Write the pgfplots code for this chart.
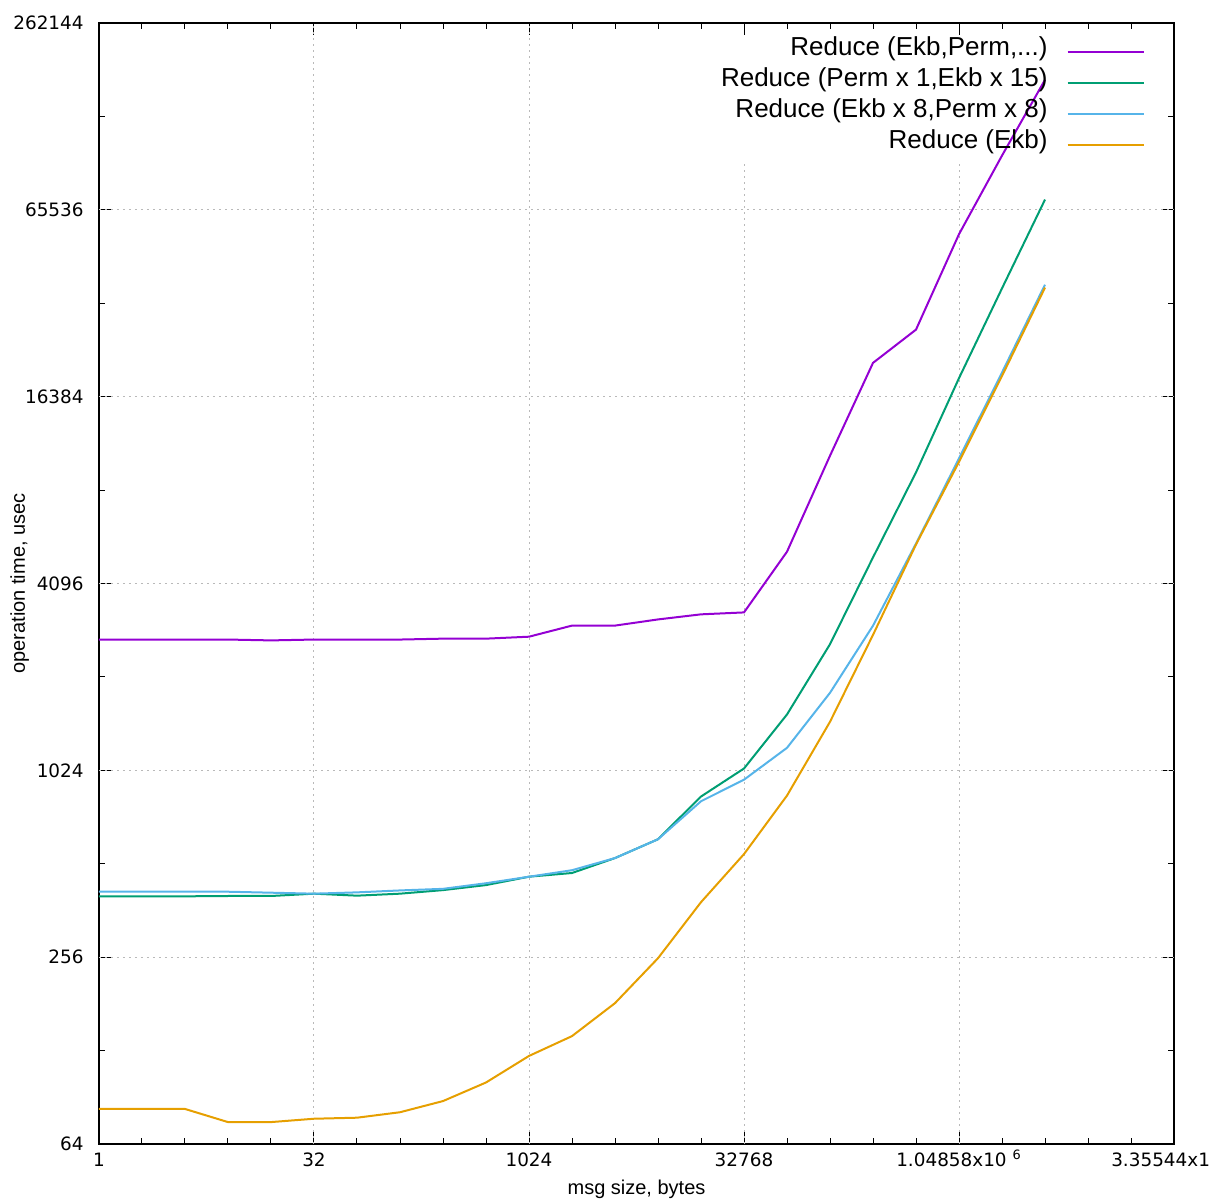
\documentclass[border=0pt]{standalone}
\usepackage{fontspec}
\setmainfont{Liberation Sans}
\newfontfamily\dejavu{DejaVu Sans}
\usepackage{pgfplots}
\pgfplotsset{compat=1.18}
\usepackage{pgfplotstable}

\definecolor{cpurple}{HTML}{9400D3}
\definecolor{cgreen}{HTML}{009E73}
\definecolor{cblue}{HTML}{56B4E9}
\definecolor{corange}{HTML}{E69F00}

\pgfplotstableread{
x y
1 2702
2 2702
4 2702
8 2702
16 2685
32 2702
64 2702
128 2702
256 2720
512 2720
1024 2760
2048 2997
4096 2997
8192 3137
16384 3258
32768 3305
65536 5185
131072 10570
262144 21050
524288 26940
1048576 54700
2097152 98000
4194304 172000
}\tpurple

\pgfplotstableread{
x y
1 402
2 402
4 402
8 403
16 403
32 410
64 404
128 410
256 421
512 437
1024 465
2048 478
4096 534
8192 614
16384 843
32768 1038
65536 1550
131072 2610
262144 4970
524288 9340
1048576 18800
2097152 36600
4194304 70700
}\tgreen

\pgfplotstableread{
x y
1 416
2 416
4 416
8 416
16 413
32 410
64 414
128 420
256 425
512 443
1024 465
2048 488
4096 534
8192 614
16384 814
32768 955
65536 1210
131072 1820
262144 2995
524288 5510
1048576 10360
2097152 19600
4194304 37600
}\tblue

\pgfplotstableread{
x y
1 83
2 83
4 83
8 75.3
16 75.3
32 77.2
64 77.8
128 81
256 88
512 101
1024 123
2048 142.5
4096 182
8192 254
16384 385
32768 550
65536 849
131072 1468
262144 2797
524288 5470
1048576 10100
2097152 19100
4194304 36800
}\torange

\begin{document}
\begin{tikzpicture}
\begin{axis}[
  at={(0,0)}, anchor=south west,
  scale only axis,
  width=537.5pt, height=560.5pt,
  xmode=log, ymode=log,
  log basis x=2, log basis y=2,
  xmin=1, xmax=33554432,
  ymin=64, ymax=262144,
  xtick={1,32,1024,32768,1048576,33554432},
  xticklabels={1,32,1024,32768,{1.04858x10 \textsuperscript{6}},{3.35544x10 \textsuperscript{7}}},
  extra x ticks={2,4,8,16,64,128,256,512,2048,4096,8192,16384,65536,131072,262144,524288,2097152,4194304,8388608,16777216},
  extra x tick labels={},
  extra x tick style={major tick length=3pt},
  ytick={64,256,1024,4096,16384,65536,262144},
  yticklabels={64,256,1024,4096,16384,65536,262144},
  extra y ticks={128,512,2048,8192,32768,131072},
  extra y tick labels={},
  extra y tick style={major tick length=3pt},
  minor tick num=0,
  tick align=inside,
  major tick length=6pt,
  tick style={black, line width=0.5pt},
  axis line style={line width=0.6pt},
  tick label style={font=\dejavu\fontsize{9.2}{10}\selectfont},
  yticklabel style={inner sep=0pt, xshift=-7.5pt},
  xticklabel style={anchor=base, inner sep=0pt, yshift=-11.5pt},
  xlabel={msg size, bytes},
  ylabel={operation time, usec},
  label style={font=\fontsize{10}{12}\selectfont},
  every axis x label/.style={at={([yshift=-25.5pt]axis description cs:0.5,0)}, anchor=base},
  every axis y label/.style={at={([xshift=-37pt]axis description cs:0,0.5)}, anchor=base, rotate=90},
  legend style={at={([xshift=-14.5pt,yshift=-6.5pt]axis description cs:1,1)}, anchor=north east,
    draw=none, fill=none, inner sep=0pt,
    font=\fontsize{13}{15.5}\selectfont, row sep=3pt, column sep=9.5pt,
    nodes={inner sep=0pt, text height=9.5pt, text depth=3pt}},
  legend cell align=right,
  legend plot pos=right,
  legend image code/.code={\draw[#1] (0pt,-1.7pt) -- (38pt,-1.7pt);},
]
% grid (dotted), partly hidden behind the legend
\draw[gray!55, line width=0.5pt, dash pattern=on 1pt off 2pt] (axis cs:32,64) -- (axis cs:32,262144);
\draw[gray!55, line width=0.5pt, dash pattern=on 1pt off 2pt] (axis cs:1024,64) -- (axis cs:1024,262144);
\draw[gray!55, line width=0.5pt, dash pattern=on 1pt off 2pt] (axis cs:32768,64) -- (axis cs:32768,94000);
\draw[gray!55, line width=0.5pt, dash pattern=on 1pt off 2pt] (axis cs:1048576,64) -- (axis cs:1048576,94000);
\draw[gray!55, line width=0.5pt, dash pattern=on 1pt off 2pt] (axis cs:1,256) -- (axis cs:33554432,256);
\draw[gray!55, line width=0.5pt, dash pattern=on 1pt off 2pt] (axis cs:1,1024) -- (axis cs:33554432,1024);
\draw[gray!55, line width=0.5pt, dash pattern=on 1pt off 2pt] (axis cs:1,4096) -- (axis cs:33554432,4096);
\draw[gray!55, line width=0.5pt, dash pattern=on 1pt off 2pt] (axis cs:1,16384) -- (axis cs:33554432,16384);
\draw[gray!55, line width=0.5pt, dash pattern=on 1pt off 2pt] (axis cs:1,65536) -- (axis cs:33554432,65536);

\addplot[cpurple, line width=1pt] table[x=x,y=y] {\tpurple};
\addlegendentry{Reduce (Ekb,Perm,...)}
\addplot[cgreen, line width=1pt] table[x=x,y=y] {\tgreen};
\addlegendentry{Reduce (Perm x 1,Ekb x 15)}
\addplot[cblue, line width=1pt] table[x=x,y=y] {\tblue};
\addlegendentry{Reduce (Ekb x 8,Perm x 8)}
\addplot[corange, line width=1pt] table[x=x,y=y] {\torange};
\addlegendentry{Reduce (Ekb)}
\end{axis}
\pgfresetboundingbox
\useasboundingbox (-49.5pt,-27.5pt) rectangle (555pt,572pt);
\end{tikzpicture}
\end{document}
